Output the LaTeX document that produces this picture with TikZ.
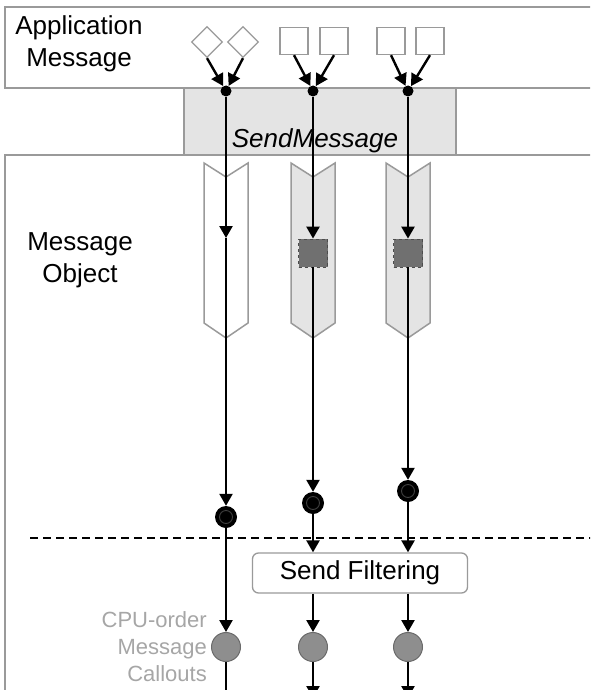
\documentclass[tikz,border=0pt]{standalone}
\usepackage{fontspec}
\setmainfont{Liberation Sans}
\usepackage{tikz}
\usetikzlibrary{arrows.meta,shapes.geometric}

\definecolor{framegray}{HTML}{9A9A9A}
\definecolor{boxfill}{HTML}{E4E4E4}
\definecolor{darkfill}{HTML}{707070}
\definecolor{callfill}{HTML}{8E8E8E}
\definecolor{calltext}{HTML}{A6A6A6}

\begin{document}
\begin{tikzpicture}[x=1pt,y=-1pt,>={Triangle[length=12pt,width=13pt]},
	frame/.style={draw=framegray,line width=1.5pt},
	flow/.style={->,line width=2.4pt},
	big/.style={font=\fontsize{26}{32}\selectfont},
	diam/.style={diamond,aspect=1,draw=framegray,fill=white,line width=1.3pt,minimum size=31pt,inner sep=0pt},
	sq/.style={rectangle,draw=framegray,fill=white,line width=1.3pt,minimum width=28pt,minimum height=27pt,inner sep=0pt},
	dot/.style={circle,fill=black,minimum size=11pt,inner sep=0pt},
	chip/.style={rectangle,fill=darkfill,draw=black!70,dashed,line width=0.8pt,minimum width=29pt,minimum height=28pt,inner sep=0pt},
	bull/.style={circle,fill=black,minimum size=22pt,inner sep=0pt,
		path picture={\draw[gray!50!black,line width=0.9pt] (path picture bounding box.center) circle (6.5pt);}},
	callout/.style={circle,fill=callfill,draw=callfill!75!black,line width=1pt,minimum size=29pt,inner sep=0pt},
	filt/.style={draw=framegray,fill=white,rounded corners=6pt,line width=1.3pt,minimum width=215pt,minimum height=40pt}]
			\def\ca{226}
			\def\cb{313}
			\def\cc{408}
			
			\useasboundingbox (0,0) rectangle (590,690);
			\clip (0,0) rectangle (590,690);
			
			% frames
			\draw[frame] (5,7) rectangle (600,88);
			\draw[frame] (5,155) rectangle (600,700);
			\node[frame,fill=boxfill,minimum width=272pt,minimum height=67pt,inner sep=0pt] (send) at (320,121.5) {};
			
			\node[big,align=center] (app) at (79,44) {Application\\Message};
			\node[big,align=center] (obj) at (80,260) {Message\\Object};
			\node[big,font=\fontsize{26}{32}\selectfont\itshape] (sendlbl) at (315,141) {SendMessage};
			\node[font=\fontsize{22}{27}\selectfont,text=calltext,align=right,anchor=east,inner sep=0pt] (cpu) at (207,647) {CPU-order\\Message\\Callouts};
			
			% chevrons
			\foreach \x/\f in {\ca/white,\cb/boxfill,\cc/boxfill}
			\draw[frame,fill=\f] (\x-22,163) -- (\x,177) -- (\x+22,163) -- (\x+22,323) -- (\x,338) -- (\x-22,323) -- cycle;
			
			% message tokens
			\node[diam] (d1) at (207,42) {};
			\node[diam] (d2) at (243,42) {};
			\node[sq] (s1) at (294,41) {};
			\node[sq] (s2) at (334,41) {};
			\node[sq] (s3) at (391,41) {};
			\node[sq] (s4) at (430,41) {};
			
			\node[dot] (j1) at (\ca,91) {};
			\node[dot] (j2) at (\cb,91) {};
			\node[dot] (j3) at (\cc,91) {};
			
			\coordinate (m1) at (\ca,238);
			\node[chip] (q2) at (\cb,253) {};
			\node[chip] (q3) at (\cc,253) {};
			
			\node[bull] (b1) at (\ca,517) {};
			\node[bull] (b2) at (\cb,503) {};
			\node[bull] (b3) at (\cc,491) {};
			
			\coordinate (dl) at (30,538);
			\coordinate (dr) at (595,538);
			\draw[line width=2.6pt,dash pattern=on 8pt off 5pt] (dl) -- (dr);
			
			\node[filt,big] (filt) at (360,573) {Send Filtering};
			
			\node[callout] (k1) at (\ca,647) {};
			\node[callout] (k2) at (\cb,647) {};
			\node[callout] (k3) at (\cc,647) {};
			
			\coordinate (e1) at (\ca,700);
			\coordinate (e2) at (\cb,698);
			\coordinate (e3) at (\cc,698);
			
			% flows
			\draw[flow] (d1.south) -- (j1);
			\draw[flow] (d2.south) -- (j1);
			\draw[flow] (s1.south) -- (j2);
			\draw[flow] (s2.south) -- (j2);
			\draw[flow] (s3.south) -- (j3);
			\draw[flow] (s4.south) -- (j3);
			
			\draw[flow] (j1) -- (m1);
			\draw[flow] (m1) -- (b1);
			\draw[flow] (j2) -- (q2);
			\draw[flow] (q2) -- (b2);
			\draw[flow] (j3) -- (q3);
			\draw[flow] (q3) -- (b3);
			
			\draw[flow] (b1) -- (k1);
			\draw[flow] (b2) -- (b2 |- filt.north);
			\draw[flow] (b2 |- filt.south) -- (k2);
			\draw[flow] (b3) -- (b3 |- filt.north);
			\draw[flow] (b3 |- filt.south) -- (k3);
			
			\draw[line width=2.4pt] (k1) -- (e1);
			\draw[flow] (k2) -- (e2);
			\draw[flow] (k3) -- (e3);
		\end{tikzpicture}
\end{document}
